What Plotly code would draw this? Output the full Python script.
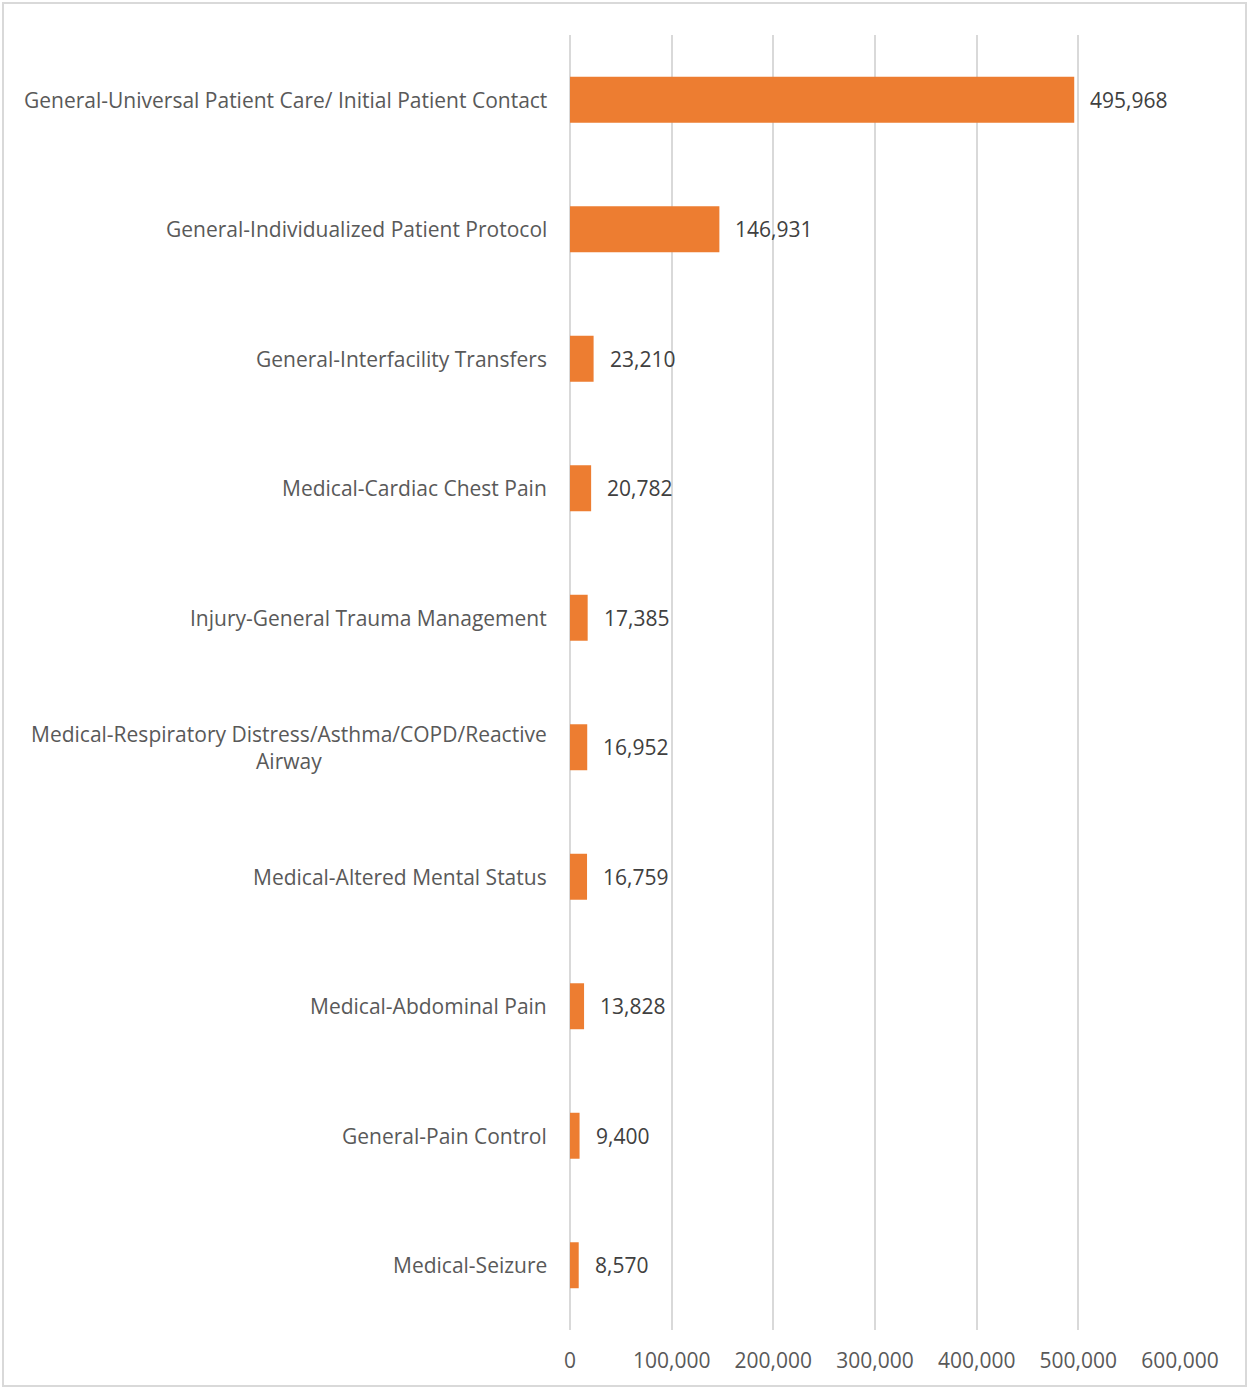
import plotly.graph_objects as go

categories = [
    "General-Universal Patient Care/ Initial Patient Contact",
    "General-Individualized Patient Protocol",
    "General-Interfacility Transfers",
    "Medical-Cardiac Chest Pain",
    "Injury-General Trauma Management",
    "Medical-Respiratory Distress/Asthma/COPD/Reactive<br>Airway",
    "Medical-Altered Mental Status",
    "Medical-Abdominal Pain",
    "General-Pain Control",
    "Medical-Seizure",
]
values = [495968, 146931, 23210, 20782, 17385, 16952, 16759, 13828, 9400, 8570]
x_ticks = [0, 100000, 200000, 300000, 400000, 500000, 600000]
x_tick_labels = ["0", "100,000", "200,000", "300,000", "400,000", "500,000", "600,000"]

FONT = "Open Sans"
TXT = "#595959"
FS = 21
W, H = 1249, 1389
ML, MR, MT, MB = 570, 69, 35, 59
pw, ph = W - ML - MR, H - MT - MB

fig = go.Figure(go.Bar(
    y=categories, x=values, orientation="h",
    marker=dict(color="#ED7D31", line=dict(width=0)),
    width=0.355, hoverinfo="x+y",
))

annotations = []
for c, v in zip(categories, values):
    annotations.append(dict(x=v, y=c, xref="x", yref="y", text=f"{v:,}",
                            showarrow=False, xanchor="left", xshift=14,
                            font=dict(family=FONT, size=FS, color="#404040")))
    annotations.append(dict(x=0, y=c, xref="paper", yref="y", text=c,
                            showarrow=False, xanchor="right", xshift=-21, align="center",
                            font=dict(family=FONT, size=FS, color=TXT)))

fig.update_layout(
    width=W, height=H,
    margin=dict(l=ML, r=MR, t=MT, b=MB, pad=0),
    paper_bgcolor="white", plot_bgcolor="white",
    showlegend=False,
    font=dict(family=FONT, size=FS, color=TXT),
    annotations=annotations,
    xaxis=dict(range=[0, 600000], tickvals=x_ticks, ticktext=x_tick_labels,
               showgrid=True, gridcolor="#D9D9D9", gridwidth=2,
               zeroline=True, zerolinecolor="#D9D9D9", zerolinewidth=2,
               showline=False, ticks="", ticklen=0, ticklabelstandoff=16,
               tickfont=dict(family=FONT, size=FS, color=TXT)),
    yaxis=dict(categoryorder="array", categoryarray=categories[::-1],
               showticklabels=False, showgrid=False, zeroline=False, showline=False,
               ticks=""),
    shapes=[dict(type="rect", xref="paper", yref="paper",
                 x0=(3 - ML) / pw, x1=(W - 3 - ML) / pw,
                 y0=(H - MB - (H - 3)) / ph, y1=(H - MB - 3) / ph,
                 line=dict(color="#D9D9D9", width=2), fillcolor="rgba(0,0,0,0)",
                 layer="below")],
)

fig.write_html("out.html", config={"displayModeBar": False},
               post_script="document.body.style.margin='0';")
